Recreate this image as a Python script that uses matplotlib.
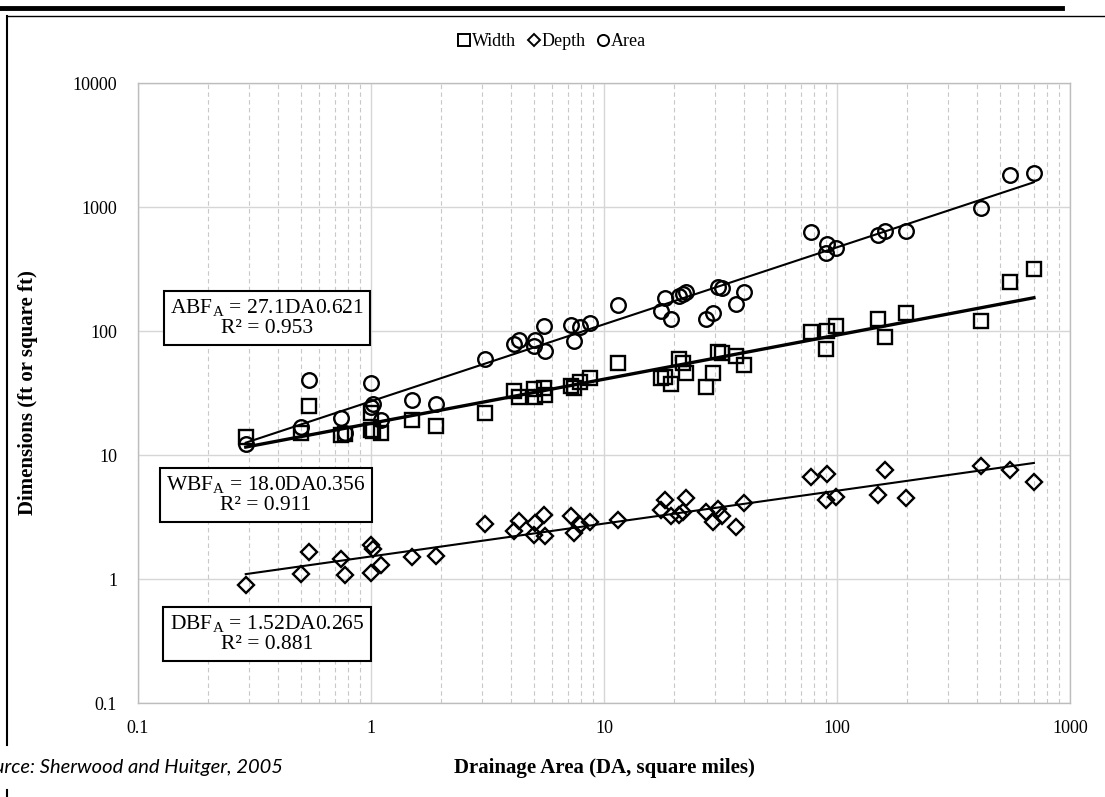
import numpy as np
import matplotlib
matplotlib.use("Agg")
import matplotlib.pyplot as plt
from matplotlib.lines import Line2D
from matplotlib.ticker import LogLocator, NullFormatter

# regional curve data (Sherwood and Huitger, 2005)
drainage_area = [0.29, 0.50, 0.54, 0.74, 0.77, 1.0, 1.02, 1.0, 1.1, 1.5, 1.9,
                 3.1, 4.1, 4.3, 5.0, 5.05, 5.5, 5.6, 7.25, 7.4, 7.9, 8.7, 11.5,
                 17.5, 18.3, 19.3, 21.0, 21.8, 22.5, 27.3, 29.5, 31.0, 32.0,
                 37.0, 39.7, 77, 90.5, 90, 99, 150, 161, 198, 415, 550, 700]
width = [14, 15, 25, 14.5, 14.8, 22, 15.6, 16, 15, 19, 17,
         22, 33, 29.5, 34, 29.5, 35, 30.5, 36, 35, 39, 42, 55,
         41.5, 42.5, 37.5, 59, 55, 46, 35.5, 46, 68, 66,
         63, 53, 98, 100, 71, 110, 126, 89, 140, 120, 250, 316]
depth = [0.9, 1.1, 1.65, 1.45, 1.08, 1.88, 1.75, 1.12, 1.3, 1.5, 1.53,
         2.8, 2.44, 2.93, 2.27, 2.83, 3.28, 2.22, 3.2, 2.35, 2.72, 2.88, 3.0,
         3.6, 4.35, 3.2, 3.3, 3.45, 4.5, 3.47, 2.9, 3.7, 3.2,
         2.62, 4.1, 6.6, 7.0, 4.35, 4.56, 4.8, 7.6, 4.5, 8.2, 7.6, 6.1]
area = [12.3, 16.8, 40, 20, 15, 38, 26, 24.5, 19, 28, 26,
        60, 79, 85, 76, 85, 110, 69, 112, 83, 108, 116, 162,
        145, 185, 125, 191, 199, 205, 125, 140, 225, 222,
        165, 206, 630, 500, 425, 465, 590, 640, 640, 980, 1820, 1870]

# power-law fits  y = a * DA^b
fit_a = {"Width": 18.0, "Depth": 1.52, "Area": 27.1}
fit_b = {"Width": 0.356, "Depth": 0.265, "Area": 0.621}
fit_r2 = {"Width": 0.911, "Depth": 0.881, "Area": 0.953}

plt.rcParams['font.family'] = ['Liberation Serif', 'DejaVu Serif']
plt.rcParams['mathtext.fontset'] = 'custom'
plt.rcParams['mathtext.rm'] = 'Liberation Serif'

fig = plt.figure(figsize=(11.05, 7.97), dpi=100)
ax = fig.add_axes([138 / 1105, 1 - 703 / 797, (1070 - 138) / 1105, (703 - 83) / 797])

mk = dict(ls='none', mfc='none', mec='black', mew=1.7, zorder=3)
ax.plot(drainage_area, width, marker='s', ms=10, **mk)
ax.plot(drainage_area, depth, marker='D', ms=8.5, **mk)
ax.plot(drainage_area, area, marker='o', ms=10.5, **mk)

xs = np.logspace(np.log10(min(drainage_area)), np.log10(max(drainage_area)), 50)
lw = {"Width": 2.4, "Depth": 1.5, "Area": 1.5}
for k in ["Width", "Depth", "Area"]:
    ax.plot(xs, fit_a[k] * xs ** fit_b[k], color='black', lw=lw[k], zorder=4)

ax.set_xscale('log')
ax.set_yscale('log')
ax.set_xlim(0.1, 1000)
ax.set_ylim(0.1, 10000)

ax.set_xticks([0.1, 1, 10, 100, 1000])
ax.set_xticklabels(["0.1", "1", "10", "100", "1000"])
ax.set_yticks([0.1, 1, 10, 100, 1000, 10000])
ax.set_yticklabels(["0.1", "1", "10", "100", "1000", "10000"])
ax.xaxis.set_minor_locator(LogLocator(base=10, subs=np.arange(2, 10)))
ax.xaxis.set_minor_formatter(NullFormatter())
ax.yaxis.set_minor_locator(LogLocator(base=10, subs=[]))
ax.yaxis.set_minor_formatter(NullFormatter())
ax.tick_params(which='both', length=0, labelsize=13)
ax.tick_params(axis='x', pad=12)
ax.tick_params(axis='y', pad=15)

ax.grid(which='major', color='#d6d6d6', lw=1.0, zorder=0)
ax.grid(which='minor', axis='x', color='#c8c8c8', lw=0.8, ls=(0, (4, 3)), zorder=0)
ax.set_axisbelow(True)
for s in ax.spines.values():
    s.set_color('#bdbdbd')
    s.set_linewidth(1.0)

ax.set_xlabel("Drainage Area (DA, square miles)", fontsize=15, fontweight='bold', labelpad=15)
ax.set_ylabel("Dimensions (ft or square ft)", fontsize=15, fontweight='bold', labelpad=25)

# equation boxes
box = dict(boxstyle='square,pad=0.3', fc='white', ec='black', lw=1.5)
labels = {"Area": "ABF", "Width": "WBF", "Depth": "DBF"}
box_pos = {"Area": (267, 318), "Width": (266, 495), "Depth": (267, 634)}
for k in ["Area", "Width", "Depth"]:
    coef = ("%.2f" % fit_a[k]) if fit_a[k] < 10 else ("%.1f" % fit_a[k])
    txt = labels[k] + r"$_\mathrm{A}$" + " = %sDA%.3f\nR\u00b2 = %.3f" % (coef, fit_b[k], fit_r2[k])
    px, py = box_pos[k]
    fig.text(px / 1105, 1 - py / 797, txt, ha='center', va='center', fontsize=15.5,
             linespacing=1.0, bbox=box, zorder=6)

# legend above the plot
handles = [Line2D([], [], marker='s', ls='none', mfc='none', mec='black', mew=1.4, ms=8),
           Line2D([], [], marker='D', ls='none', mfc='none', mec='black', mew=1.4, ms=6.5),
           Line2D([], [], marker='o', ls='none', mfc='none', mec='black', mew=1.4, ms=8)]
fig.legend(handles, ["Width", "Depth", "Area"], loc='center', ncol=3,
           bbox_to_anchor=(552 / 1105, 1 - 42 / 797), frameon=False, fontsize=13,
           handlelength=0.7, handletextpad=0.1, columnspacing=0.6)

# page decorations around the figure (source line is cut by the page edge, as in the original)
fig.add_artist(Line2D([0, 1062 / 1105], [1 - 8 / 797, 1 - 8 / 797], color='black', lw=3.5))
fig.add_artist(Line2D([7 / 1105, 1], [1 - 16 / 797, 1 - 16 / 797], color='black', lw=1.0))
fig.add_artist(Line2D([7 / 1105, 7 / 1105], [1 - 16 / 797, 1 - 745 / 797], color='black', lw=1.5))
fig.add_artist(Line2D([7 / 1105, 7 / 1105], [1 - 790 / 797, 0], color='black', lw=1.5))
fig.text(283 / 1105, 1 - 767 / 797, "Source: Sherwood and Huitger, 2005", ha='right', va='center',
         fontsize=14.5, style='italic', family=['Lato', 'DejaVu Sans'])

fig.savefig("out.png", dpi=100, facecolor='white')
